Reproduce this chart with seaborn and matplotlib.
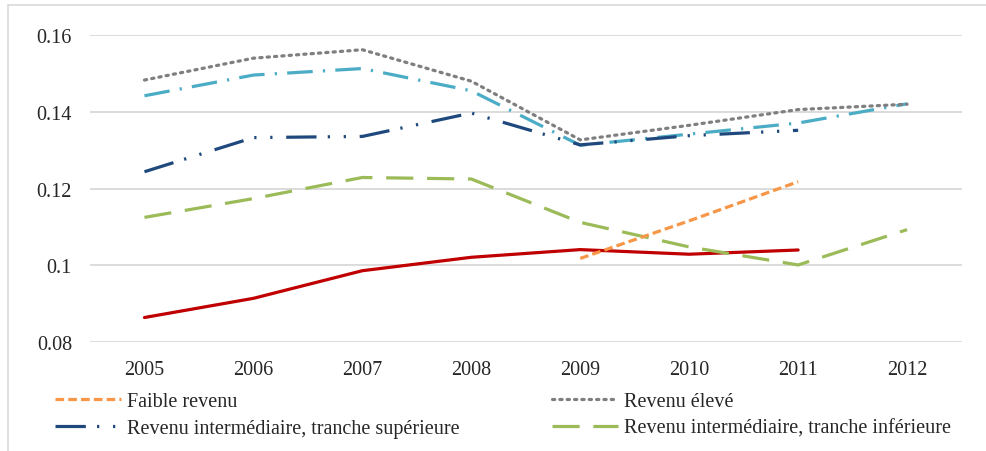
import pandas as pd
import numpy as np
import matplotlib
matplotlib.use("Agg")
import matplotlib.pyplot as plt
import seaborn as sns
from matplotlib.lines import Line2D

# values
annees = [2005, 2006, 2007, 2008, 2009, 2010, 2011, 2012]
faible = [np.nan, np.nan, np.nan, np.nan, 0.1018, 0.1116, 0.1218, np.nan]
eleve = [0.1483, 0.1540, 0.1562, 0.1480, 0.1327, 0.1365, 0.1406, 0.1420]
sup = [0.1244, 0.1333, 0.1336, 0.1397, 0.1314, 0.1338, 0.1352, np.nan]
inf = [0.1125, 0.1174, 0.1229, 0.1225, 0.1112, 0.1048, 0.1001, 0.1093]
bleu_clair = [0.1442, 0.1496, 0.1513, 0.1455, 0.1313, 0.1342, 0.1371, 0.1421]
rouge = [0.0864, 0.0914, 0.0986, 0.1021, 0.1041, 0.1029, 0.1040, np.nan]

noms = ["Faible revenu", "Revenu élevé",
        "Revenu intermédiaire, tranche supérieure",
        "Revenu intermédiaire, tranche inférieure",
        "Série 5", "Série 6"]
series = [faible, eleve, sup, inf, bleu_clair, rouge]
couleurs = ["#F79646", "#7F7F7F", "#1F497D", "#9BBB59", "#4BACC6", "#C00000"]
tirets = [(2.7, 1.3), (0.7, 1.6), (9.5, 3.5, 0.7, 4.3, 0.7, 4.3),
          (8.5, 4.3), (8, 3.2, 0.7, 3.2), ""]

rows = []
for nom, vals in zip(noms, series):
    for i, v in enumerate(vals):
        rows.append({"pos": i, "annee": annees[i], "serie": nom, "valeur": v})
df = pd.DataFrame(rows).dropna()

sns.set_style("white")
plt.rcParams["font.family"] = ["Liberation Serif", "DejaVu Serif"]

fig = plt.figure(figsize=(9.87, 4.52), dpi=100)
ax = fig.add_axes([0.0912, 0.241, 0.883, 0.679])

# draw back to front as in the original
ordre = [5, 4, 3, 2, 1, 0]
for k in ordre:
    sub = df[df["serie"] == noms[k]]
    sns.lineplot(data=sub, x="pos", y="valeur", color=couleurs[k], ax=ax,
                 linewidth=2.3, legend=False, estimator=None)
    ln = ax.lines[-1]
    if tirets[k]:
        ln.set_dashes(tirets[k])
    if k == 1:
        ln.set_dash_capstyle("round")

ax.set_xlim(-0.5, 7.5)
ax.set_ylim(0.08, 0.16)
ax.set_yticks([0.08, 0.1, 0.12, 0.14, 0.16])
ax.set_yticklabels(["0.08", "0.1", "0.12", "0.14", "0.16"])
ax.set_xticks(range(len(annees)))
ax.set_xticklabels([str(a) for a in annees])
ax.tick_params(axis="y", labelsize=14.5, pad=13, length=0)
ax.tick_params(axis="x", labelsize=14.5, pad=13, length=0)
ax.yaxis.grid(True, color="#D9D9D9", linewidth=1.3)
ax.set_axisbelow(True)
for s in ax.spines.values():
    s.set_visible(False)
ax.set_xlabel("")
ax.set_ylabel("")

# legend (only the four visible entries)
handles = []
for k in [0, 2, 1, 3]:
    h = Line2D([0], [0], color=couleurs[k], linewidth=2.3)
    h.set_dashes(tirets[k])
    if k == 1:
        h.set_dash_capstyle("round")
    handles.append(h)
labels = [noms[0], noms[2], noms[1], noms[3]]
fig.legend(handles, labels, ncol=2, loc="upper left", bbox_to_anchor=(0.0557, 0.131),
           frameon=False, fontsize=14.5, handlelength=3.3, handletextpad=0.3,
           columnspacing=4.55, labelspacing=0.4, borderpad=0, borderaxespad=0)

# chart frame
fig.add_artist(Line2D([8 / 987, 8 / 987], [0, 1 - 6 / 452], color="#D9D9D9",
                      linewidth=1.2, transform=fig.transFigure))
fig.add_artist(Line2D([8 / 987, 1], [1 - 6 / 452, 1 - 6 / 452], color="#D9D9D9",
                      linewidth=1.2, transform=fig.transFigure))

fig.savefig("out.png", dpi=100)
